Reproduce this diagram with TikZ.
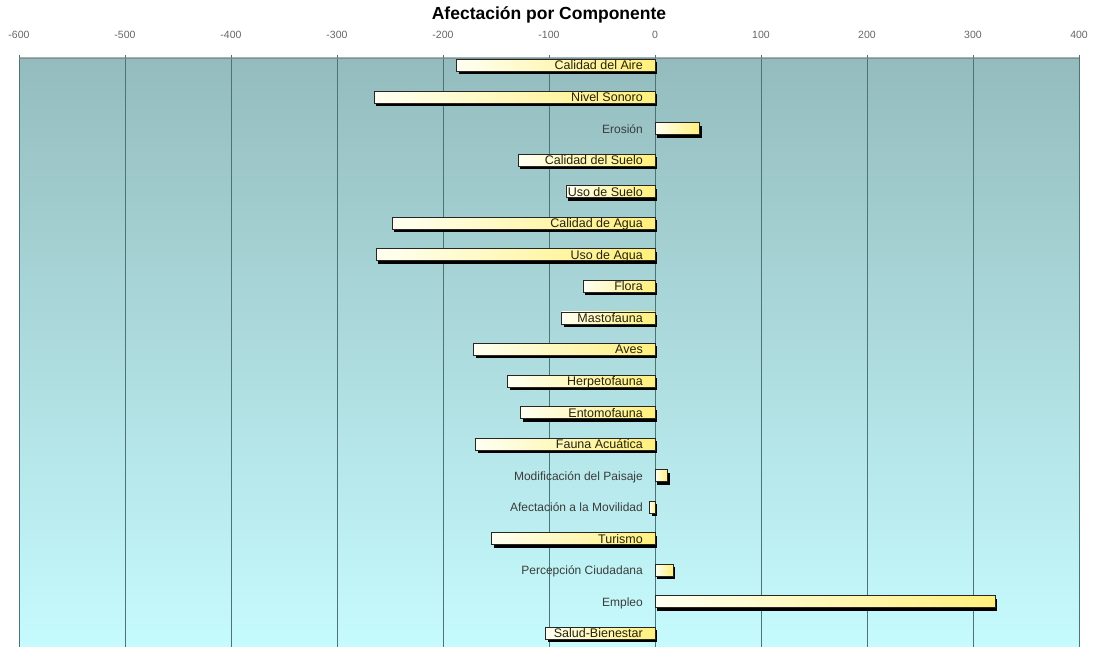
\documentclass[tikz,border=0pt]{standalone}
\usepackage{fontspec}
\setmainfont{Liberation Sans}
\usetikzlibrary{shadows}
\definecolor{bgtop}{HTML}{94BCBE}
\definecolor{bgbot}{HTML}{C6FBFE}
\definecolor{gridc}{HTML}{4C7474}
\definecolor{barL}{HTML}{FFFFF2}
\definecolor{barR}{HTML}{FFF07C}
\definecolor{intext}{HTML}{26220A}
\definecolor{outtext}{HTML}{3C3C3C}
\begin{document}
\begin{tikzpicture}[x=1pt,y=-1pt,
  barbox/.style={draw=black!85, line width=0.8pt, left color=barL, right color=barR,
    minimum height=12pt, inner sep=0pt, outer sep=0pt,
    drop shadow={shadow xshift=2.2pt, shadow yshift=-3pt, opacity=1, fill=black}},
  inlab/.style={anchor=base east, inner sep=0pt, text=intext, font=\fontsize{12.5}{13}\selectfont},
  outlab/.style={anchor=base east, inner sep=0pt, text=outtext, font=\fontsize{12}{13}\selectfont},
  ticklab/.style={inner sep=0pt, text=black!60, font=\fontsize{10.5}{11}\selectfont},
  gridline/.style={draw=gridc, line width=0.7pt},
  titlestyle/.style={inner sep=0pt, font=\bfseries\fontsize{17.5}{18}\selectfont}
]
\useasboundingbox (0,0) rectangle (1093,647);
\fill[white] (0,0) rectangle (1093,647);
% plot background
\shade[top color=bgtop, bottom color=bgbot] (19,58) rectangle (1079,647);
% title
\node[titlestyle] (title) at (549,15) {Afectación por Componente};
% grid and tick labels
\foreach \v in {-600,-500,...,400} {
  \pgfmathsetmacro\xx{655+1.06*\v}
  \draw[gridline] (\xx,55) -- (\xx,647);
  \node[ticklab] (tick\v) at (\xx,35) {\v};
}
\draw[draw=black!45, line width=0.8pt] (19,58) -- (1079,58);
% bars
\foreach \i/\v in {0/-187,1/-265,2/42,3/-129,4/-84,5/-248,6/-263,7/-68,8/-88,9/-171,10/-139,11/-127,12/-169,13/12,14/-5,15/-154,16/17,17/321,18/-103} {
  \pgfmathsetmacro\yy{65.5+31.55*\i}
  \pgfmathsetmacro\ww{abs(1.06*\v)}
  \ifnum\v<0
    \node[barbox, anchor=east, minimum width=\ww pt] (bar\i) at (655,\yy) {};
  \else
    \node[barbox, anchor=west, minimum width=\ww pt] (bar\i) at (655,\yy) {};
  \fi
}
% labels
\foreach \i/\t/\s in {0/Calidad del Aire/inlab,1/Nivel Sonoro/inlab,2/Erosión/outlab,
  3/Calidad del Suelo/inlab,4/Uso de Suelo/inlab,5/Calidad de Agua/inlab,6/Uso de Agua/inlab,
  7/Flora/inlab,8/Mastofauna/inlab,9/Aves/inlab,10/Herpetofauna/inlab,11/Entomofauna/inlab,
  12/Fauna Acuática/inlab,13/Modificación del Paisaje/outlab,14/Afectación a la Movilidad/outlab,
  15/Turismo/inlab,16/Percepción Ciudadana/outlab,17/Empleo/outlab,18/Salud-Bienestar/inlab} {
  \pgfmathsetmacro\yy{65.5+31.55*\i+4.5}
  \node[\s] (lab\i) at (643,\yy) {\t};
}
\end{tikzpicture}
\end{document}
